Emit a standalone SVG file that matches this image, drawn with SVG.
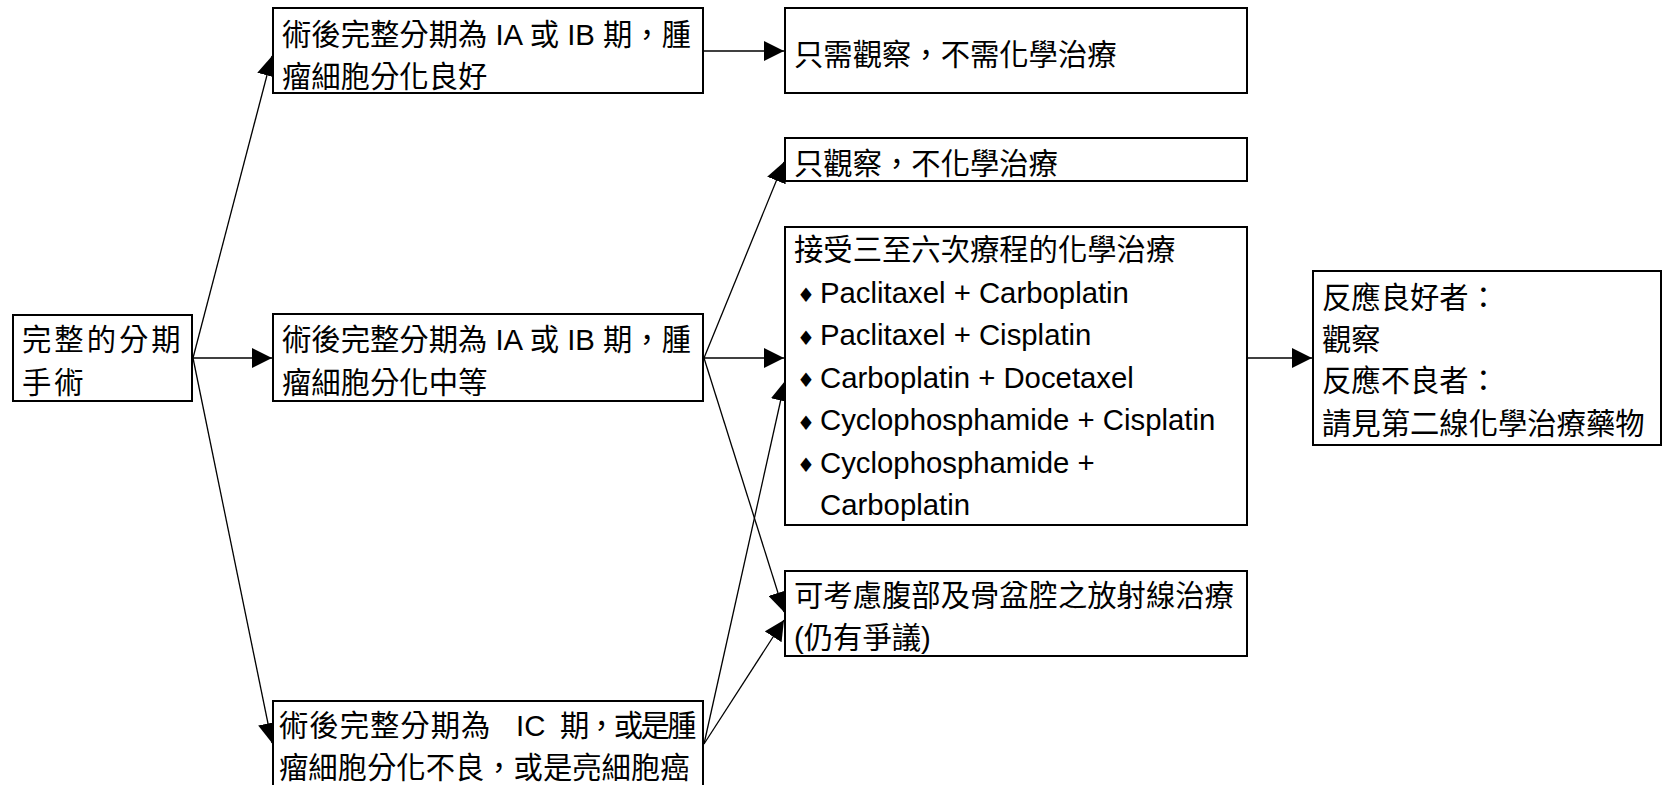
<svg xmlns="http://www.w3.org/2000/svg" width="1664" height="785" viewBox="0 0 1664 785">
  <defs>
    <marker id="arrow" markerUnits="userSpaceOnUse" markerWidth="20" markerHeight="20" refX="20" refY="10" orient="auto" viewBox="0 0 20 20">
      <path d="M0,0 L20,10 L0,20 z" fill="#000"/>
    </marker>
    <style>
      .box { fill: #fff; stroke: #000; stroke-width: 2; }
      .t { font-family: "Liberation Sans", "Noto Sans CJK TC", sans-serif; font-size: 29.33px; fill: #000; }
      .bul { font-family: "DejaVu Sans", sans-serif; font-size: 20px; fill: #000; }
      .edge { stroke: #000; stroke-width: 1.3; fill: none; marker-end: url(#arrow); }
    </style>
  </defs>
  <rect width="1664" height="785" fill="#fff"/>

  <!-- connectors -->
  <g id="connectors">
    <line class="edge" x1="193" y1="358" x2="272" y2="56"/>
    <line class="edge" x1="193" y1="358" x2="272" y2="358"/>
    <line class="edge" x1="193" y1="358" x2="272" y2="743"/>
    <line class="edge" x1="704" y1="51" x2="784" y2="51"/>
    <line class="edge" x1="704" y1="358" x2="784" y2="162"/>
    <line class="edge" x1="704" y1="358" x2="784" y2="358"/>
    <line class="edge" x1="704" y1="358" x2="784" y2="612"/>
    <line class="edge" x1="704" y1="744" x2="785" y2="381"/>
    <line class="edge" x1="704" y1="744" x2="784" y2="620"/>
    <line class="edge" x1="1248" y1="358" x2="1312" y2="358"/>
  </g>

  <!-- root: complete staging surgery -->
  <g id="surgery">
    <rect class="box" x="13" y="315" width="179" height="86"/>
    <text class="t" x="22" y="350" letter-spacing="3">完整的分期</text>
    <text class="t" x="22" y="393" letter-spacing="3">手術</text>
  </g>

  <!-- stage IA/IB, well differentiated -->
  <g id="stage-well">
    <rect class="box" x="273" y="8" width="430" height="85"/>
    <text class="t" x="282" y="44.5">術後完整分期為 IA 或 IB 期，腫</text>
    <text class="t" x="282" y="87">瘤細胞分化良好</text>
  </g>

  <!-- stage IA/IB, moderately differentiated -->
  <g id="stage-moderate">
    <rect class="box" x="273" y="314" width="430" height="87"/>
    <text class="t" x="282" y="350">術後完整分期為 IA 或 IB 期，腫</text>
    <text class="t" x="282" y="392.5">瘤細胞分化中等</text>
  </g>

  <!-- stage IC, poorly differentiated or clear cell -->
  <g id="stage-ic">
    <rect class="box" x="273" y="701" width="430" height="90"/>
    <text class="t" y="736"><tspan x="279" letter-spacing="1">術後完整分期為</tspan><tspan x="516">IC</tspan><tspan x="560" letter-spacing="-2.5">期，或是腫</tspan></text>
    <text class="t" x="279" y="778">瘤細胞分化不良，或是亮細胞癌</text>
  </g>

  <!-- observe only -->
  <g id="observe-only">
    <rect class="box" x="785" y="8" width="462" height="85"/>
    <text class="t" x="794" y="65">只需觀察，不需化學治療</text>
  </g>

  <g id="observe">
    <rect class="box" x="785" y="138" width="462" height="43"/>
    <text class="t" x="794" y="174">只觀察，不化學治療</text>
  </g>

  <!-- chemotherapy regimens -->
  <g id="chemo">
    <rect class="box" x="785" y="227" width="462" height="298"/>
    <text class="t" x="794" y="260">接受三至六次療程的化學治療</text>
    <text class="bul" x="797" y="302">♦</text>
    <text class="t" x="820" y="302.7">Paclitaxel + Carboplatin</text>
    <text class="bul" x="797" y="344.5">♦</text>
    <text class="t" x="820" y="345">Paclitaxel + Cisplatin</text>
    <text class="bul" x="797" y="387">♦</text>
    <text class="t" x="820" y="387.5">Carboplatin + Docetaxel</text>
    <text class="bul" x="797" y="429.5">♦</text>
    <text class="t" x="820" y="430">Cyclophosphamide + Cisplatin</text>
    <text class="bul" x="797" y="472">♦</text>
    <text class="t" x="820" y="472.5">Cyclophosphamide +</text>
    <text class="t" x="820" y="515">Carboplatin</text>
  </g>

  <!-- radiotherapy -->
  <g id="radiation">
    <rect class="box" x="785" y="571" width="462" height="85"/>
    <text class="t" x="794" y="606">可考慮腹部及骨盆腔之放射線治療</text>
    <text class="t" x="794" y="648">(仍有爭議)</text>
  </g>

  <!-- response follow-up -->
  <g id="response">
    <rect class="box" x="1313" y="271" width="348" height="174"/>
    <text class="t" x="1322" y="308">反應良好者：</text>
    <text class="t" x="1322" y="349.5">觀察</text>
    <text class="t" x="1322" y="391">反應不良者：</text>
    <text class="t" x="1322" y="433.5">請見第二線化學治療藥物</text>
  </g>
</svg>
